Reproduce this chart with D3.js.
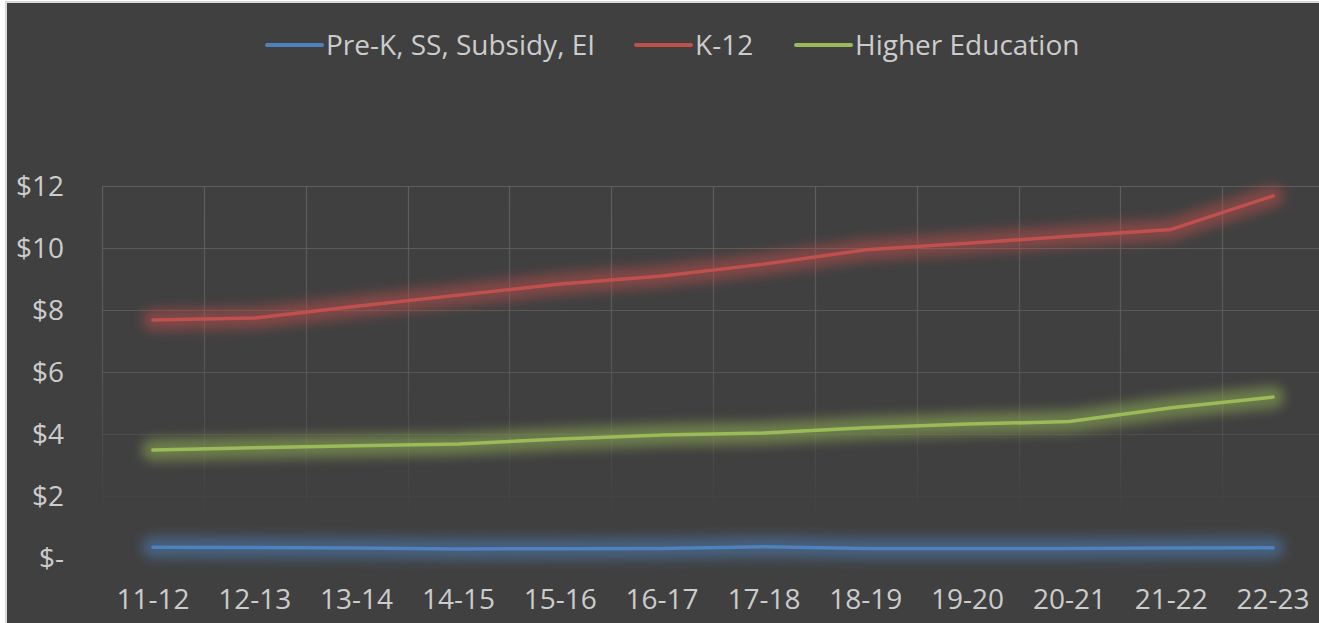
<!DOCTYPE html>
<html lang="en">
  <head>
    <meta charset="UTF-8" />
    <title>Funding by Sector</title>
    <script src="https://d3js.org/d3.v7.min.js"></script>
    <style>
      body {
        margin: 0;
        background: #ffffff;
        font-family: 'Open Sans', sans-serif;
      }
      svg {
        display: block;
      }
      .tick-label {
        fill: #cccccc;
        font-size: 28px;
      }
    </style>
  </head>
  <body>
    <div id="chart"></div>

    <script>
      const years = [
        '11-12', '12-13', '13-14', '14-15', '15-16', '16-17',
        '17-18', '18-19', '19-20', '20-21', '21-22', '22-23',
      ];
      const preK = [0.35, 0.34, 0.32, 0.29, 0.3, 0.31, 0.36, 0.31, 0.31, 0.31, 0.32, 0.33];
      const k12 = [7.68, 7.74, 8.12, 8.48, 8.84, 9.1, 9.48, 9.94, 10.15, 10.38, 10.6, 11.68];
      const higherEd = [3.48, 3.56, 3.62, 3.68, 3.84, 3.97, 4.03, 4.2, 4.32, 4.4, 4.85, 5.19];
      const yTicks = [0, 2, 4, 6, 8, 10, 12];

      const series = [
        { name: 'Pre-K, SS, Subsidy, EI', values: preK, color: '#4f81bd' },
        { name: 'K-12', values: k12, color: '#c0504d' },
        { name: 'Higher Education', values: higherEd, color: '#9bbb59' },
      ];

      const W = 1319,
        H = 623;
      const svg = d3
        .select('#chart')
        .append('svg')
        .attr('width', W)
        .attr('height', H);

      // chart area with light border (right/bottom run off the picture)
      svg
        .append('rect')
        .attr('x', 6)
        .attr('y', 2)
        .attr('width', W + 20)
        .attr('height', H + 20)
        .attr('fill', '#404040')
        .attr('stroke', '#d9d9d9')
        .attr('stroke-width', 2);

      const x = d3.scaleBand().domain(years).range([102, 1324]).padding(0);
      const y = d3.scaleLinear().domain([0, 12]).range([558, 186]);
      const cx = (d) => x(d) + x.bandwidth() / 2;

      const defs = svg.append('defs');
      const grad = defs
        .append('linearGradient')
        .attr('id', 'gridFade')
        .attr('gradientUnits', 'userSpaceOnUse')
        .attr('x1', 0)
        .attr('x2', 0)
        .attr('y1', y(12))
        .attr('y2', y(0));
      grad.append('stop').attr('offset', 0).attr('stop-color', '#5e5e5e').attr('stop-opacity', 1);
      grad.append('stop').attr('offset', 0.45).attr('stop-color', '#5e5e5e').attr('stop-opacity', 0.8);
      grad.append('stop').attr('offset', 0.9).attr('stop-color', '#5e5e5e').attr('stop-opacity', 0);

      // glow filter region covers the whole picture so thin lines aren't clipped
      defs
        .append('filter')
        .attr('id', 'glow')
        .attr('filterUnits', 'userSpaceOnUse')
        .attr('x', 0)
        .attr('y', 0)
        .attr('width', W)
        .attr('height', H)
        .append('feGaussianBlur')
        .attr('stdDeviation', 6);

      // gridlines
      const grid = svg.append('g');
      grid
        .selectAll('line.h')
        .data(yTicks)
        .join('line')
        .attr('class', 'h')
        .attr('x1', 102)
        .attr('x2', W)
        .attr('y1', (d) => Math.round(y(d)) + 0.5)
        .attr('y2', (d) => Math.round(y(d)) + 0.5)
        .attr('stroke', 'url(#gridFade)')
        .attr('stroke-width', 1.2);
      grid
        .selectAll('line.v')
        .data(years.concat(['end']))
        .join('line')
        .attr('class', 'v')
        .attr('x1', (d, i) => Math.round(102 + i * x.bandwidth()) + 0.5)
        .attr('x2', (d, i) => Math.round(102 + i * x.bandwidth()) + 0.5)
        .attr('y1', y(12))
        .attr('y2', y(0))
        .attr('stroke', 'url(#gridFade)')
        .attr('stroke-width', 1.2);

      // y labels
      svg
        .append('g')
        .selectAll('text')
        .data(yTicks)
        .join('text')
        .attr('class', 'tick-label')
        .attr('x', 64)
        .attr('y', (d) => y(d) + 10)
        .attr('text-anchor', 'end')
        .text((d) => (d === 0 ? '$-' : '$' + d));

      // x labels
      svg
        .append('g')
        .selectAll('text')
        .data(years)
        .join('text')
        .attr('class', 'tick-label')
        .attr('x', cx)
        .attr('y', 609)
        .attr('text-anchor', 'middle')
        .text((d) => d);

      // lines with soft glow
      const line = d3
        .line()
        .x((d, i) => cx(years[i]))
        .y((d) => y(d));

      series.forEach((s) => {
        svg
          .append('path')
          .attr('d', line(s.values))
          .attr('fill', 'none')
          .attr('stroke', s.color)
          .attr('stroke-width', 22)
          .attr('stroke-linecap', 'round')
          .attr('stroke-linejoin', 'round')
          .attr('opacity', 0.5)
          .attr('filter', 'url(#glow)');
      });
      series.forEach((s) => {
        svg
          .append('path')
          .attr('d', line(s.values))
          .attr('fill', 'none')
          .attr('stroke', s.color)
          .attr('stroke-width', 3.5)
          .attr('stroke-linecap', 'round')
          .attr('stroke-linejoin', 'round');
      });

      // legend
      const legendX = [267, 636, 796];
      const legend = svg
        .append('g')
        .selectAll('g')
        .data(series)
        .join('g')
        .attr('transform', (d, i) => `translate(${legendX[i]},45)`);
      legend
        .append('line')
        .attr('x1', 0)
        .attr('x2', 55)
        .attr('stroke', (d) => d.color)
        .attr('stroke-width', 4)
        .attr('stroke-linecap', 'round');
      legend
        .append('text')
        .attr('class', 'tick-label')
        .attr('x', 59)
        .attr('y', 10)
        .text((d) => d.name);
    </script>
  </body>
</html>
